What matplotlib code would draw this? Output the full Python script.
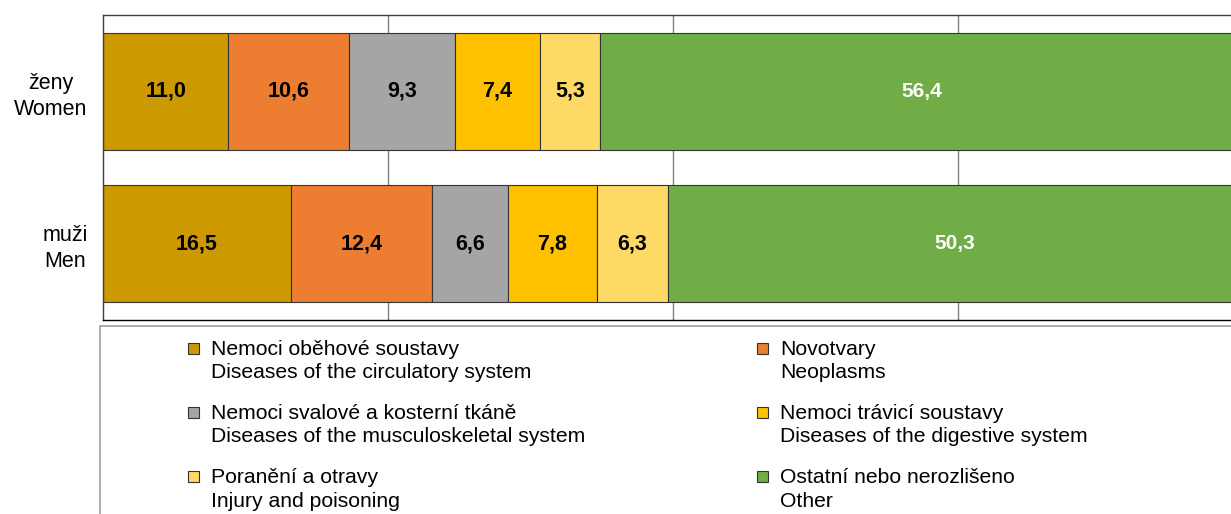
import matplotlib.pyplot as plt
from matplotlib.patches import Rectangle

plt.rcParams['font.family'] = ['Liberation Sans', 'DejaVu Sans']

# data
groups = ["ženy\nWomen", "muži\nMen"]
causes_cz = ["Nemoci oběhové soustavy", "Novotvary", "Nemoci svalové a kosterní tkáně",
             "Nemoci trávicí soustavy", "Poranění a otravy", "Ostatní nebo nerozlišeno"]
causes_en = ["Diseases of the circulatory system", "Neoplasms",
             "Diseases of the musculoskeletal system", "Diseases of the digestive system",
             "Injury and poisoning", "Other"]
women = [11.0, 10.6, 9.3, 7.4, 5.3, 56.4]
men = [16.5, 12.4, 6.6, 7.8, 6.3, 50.3]
colors = ["#CC9900", "#ED7D31", "#A5A5A5", "#FFC000", "#FFD966", "#70AD47"]

W, H = 1231, 514
fig = plt.figure(figsize=(W / 100, H / 100), dpi=100)
# axes runs a bit past the right edge, like in the original
ax = fig.add_axes([103 / W, 1 - 320 / H, 1140 / W, 305 / H])

values = [women, men]
ypos = [0, 1]
for i in range(len(causes_cz)):
    seg = [v[i] for v in values]
    left = [sum(v[:i]) for v in values]
    bars = ax.barh(ypos, seg, left=left, height=0.77, color=colors[i],
                   edgecolor="#333333", linewidth=0.8, zorder=2)
    last = i == len(causes_cz) - 1
    labels = [("%.1f" % s).replace(".", ",") for s in seg]
    ax.bar_label(bars, labels=labels, label_type="center",
                 color="white" if last else "black",
                 fontsize=15 if last else 15.5, fontweight="bold")

ax.set_xlim(0, 100)
ax.set_ylim(1.5, -0.5)
ax.set_xticks([25, 50, 75])
ax.set_xticklabels([])
ax.tick_params(axis="x", length=0)
ax.grid(axis="x", color="#808080", linewidth=1)
ax.set_axisbelow(True)
ax.set_yticks(ypos)
ax.set_yticklabels(groups, fontsize=15.5, multialignment="center", linespacing=1.3)
ax.tick_params(axis="y", length=0, pad=11)
for s in ax.spines.values():
    s.set_color("#404040")
    s.set_linewidth(1)
ax.spines["bottom"].set_color("black")

# legend box, drawn by hand
fig.add_artist(Rectangle((100 / W, -0.1), 1.2, (1 - 326 / H) + 0.1,
                         transform=fig.transFigure, facecolor="white",
                         edgecolor="#A0A0A0", linewidth=1.2))
col_x = [188, 757]
row_y = [361, 425, 489.5]
for i in range(len(causes_cz)):
    cx = col_x[i % 2]
    cy = row_y[i // 2]
    sq_y = cy - 13
    fig.add_artist(Rectangle((cx / W, 1 - (sq_y + 5.5) / H), 11 / W, 11 / H,
                             transform=fig.transFigure, facecolor=colors[i],
                             edgecolor="#333333", linewidth=0.8))
    fig.text((cx + 23) / W, 1 - cy / H, causes_cz[i] + "\n" + causes_en[i],
             fontsize=15.2, va="center", ha="left", linespacing=1.3)

fig.savefig("out.png", dpi=100)
